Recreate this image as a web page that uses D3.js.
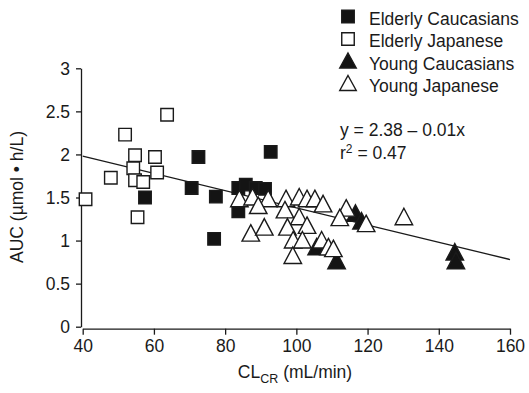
<!DOCTYPE html>
<html><head><meta charset="utf-8">
<script src="https://cdn.jsdelivr.net/npm/d3@7"></script>
<style>body{margin:0;background:#fff}svg{display:block}text{font-family:"Liberation Sans",Arial,sans-serif;fill:#1a1a1a}</style>
</head><body>
<script>
// Data (CLcr mL/min, AUC µmol·h/L)
const elderlyJapanese = [[63.7,2.46],[51.9,2.23],[54.7,1.99],[60.3,1.97],[54.2,1.84],[60.9,1.79],[47.9,1.73],[54.7,1.70],[57.0,1.68],[40.8,1.48],[55.4,1.27]];
const elderlyCaucasians = [[57.5,1.50],[72.5,1.97],[92.8,2.03],[70.6,1.61],[77.4,1.51],[83.7,1.61],[85.8,1.65],[88.6,1.61],[91.2,1.60],[83.7,1.34],[76.9,1.02]];
const youngCaucasians = [[105.7,0.91],[111.3,0.75],[116.6,1.30],[118.3,1.21],[144.5,0.85],[144.8,0.75]];
const youngJapanese = [[84.0,1.47],[87.7,1.49],[92.1,1.47],[89.3,1.39],[87.2,1.07],[91.0,1.14],[97.1,1.47],[100.8,1.49],[103.0,1.47],[105.2,1.47],[107.5,1.41],[96.8,1.34],[100.8,1.26],[97.5,1.14],[103.0,1.16],[99.1,0.99],[101.7,0.99],[99.0,0.81],[107.1,0.99],[109.0,0.91],[110.4,0.89],[114.0,1.36],[112.2,1.25],[119.6,1.18],[130.2,1.26]];
const xTicks = [40,60,80,100,120,140,160];
const yTicks = [0,0.5,1,1.5,2,2.5,3];
const yTickLabels = ["0","0.5","1","1.5","2","2.5","3"];
const legendLabels = ["Elderly Caucasians","Elderly Japanese","Young Caucasians","Young Japanese"];
const fit = {intercept:2.38, slope:-0.01};
const xRange = [40,160];

const W=529,H=393;
const svg=d3.select("body").append("svg").attr("width",W).attr("height",H);
const x=d3.scaleLinear().domain([40,160]).range([82.7,510]);
const y=d3.scaleLinear().domain([0,3]).range([326.7,68.3]);
const FS="17.5px", INK="#1a1a1a";

// axes
const xa=svg.append("g").attr("transform","translate(0,328.7)")
  .call(d3.axisBottom(x).tickValues(xTicks).tickSize(6).tickSizeOuter(0).tickPadding(4).tickFormat(d3.format("d")));
const ya=svg.append("g").attr("transform","translate(81,0)")
  .call(d3.axisLeft(y).tickValues(yTicks).tickSize(5).tickSizeOuter(0).tickPadding(6).tickFormat((d,i)=>yTickLabels[i]));
[xa,ya].forEach(g=>{g.selectAll("path,line").attr("stroke",INK).attr("stroke-width",1.3);
  g.selectAll("text").style("font-size",FS).attr("fill",INK).style("font-family",'"Liberation Sans",Arial,sans-serif');});
xa.selectAll("text").attr("dy","0.75em");
ya.selectAll("text").attr("dy","0.35em");

// regression line
svg.append("line").attr("x1",x(xRange[0])).attr("x2",x(xRange[1]))
  .attr("y1",y(fit.intercept+fit.slope*xRange[0])).attr("y2",y(fit.intercept+fit.slope*xRange[1]))
  .attr("stroke",INK).attr("stroke-width",1.3);

const sq=s=>`M${-s/2},${-s/2}h${s}v${s}h${-s}Z`;
const tri=(w,h)=>`M0,${-h*0.6}L${w/2},${h*0.4}L${-w/2},${h*0.4}Z`;
function draw(data,path,fill){
  svg.append("g").selectAll("path").data(data).join("path")
   .attr("d",path).attr("transform",d=>`translate(${x(d[0])},${y(d[1])})`)
   .attr("fill",fill).attr("stroke",INK).attr("stroke-width",1.4);
}
draw(elderlyJapanese,sq(12.5),"#fff");
draw(elderlyCaucasians,sq(12.5),"#141414");
draw(youngCaucasians,tri(17.5,16.5),"#141414");
draw(youngJapanese,tri(17.5,16.5),"#fff");

// legend
const lg=svg.append("g");
const shapes=[[sq(12.5),"#141414"],[sq(12.5),"#fff"],[tri(16.5,15),"#141414"],[tri(16.5,15),"#fff"]];
const cy=[16.5,39,62,84.5];
legendLabels.forEach((t,i)=>{
  lg.append("path").attr("d",shapes[i][0]).attr("transform",`translate(348,${cy[i]})`)
    .attr("fill",shapes[i][1]).attr("stroke",INK).attr("stroke-width",1.4);
  lg.append("text").attr("x",369).attr("y",[24.5,47,69.5,92][i]).style("font-size",FS).text(t);
});
svg.append("text").attr("x",340).attr("y",136).style("font-size",FS).text("y = 2.38 \u2013 0.01x");
const r2=svg.append("text").attr("x",340).attr("y",158.5).style("font-size",FS);
r2.append("tspan").text("r");
r2.append("tspan").attr("dy",-6).style("font-size","12px").text("2");
r2.append("tspan").attr("dy",6).text(" = 0.47");

// axis titles
const xt=svg.append("text").attr("x",295).attr("y",377.7).attr("text-anchor","middle").style("font-size",FS);
xt.append("tspan").text("CL");
xt.append("tspan").attr("dy",5).style("font-size","12.5px").text("CR");
xt.append("tspan").attr("dy",-5).text(" (mL/min)");
svg.append("text").attr("transform","translate(23,197) rotate(-90)").attr("text-anchor","middle")
  .style("font-size",FS).text("AUC (\u00b5mol \u2022 h/L)");
</script>
</body></html>
